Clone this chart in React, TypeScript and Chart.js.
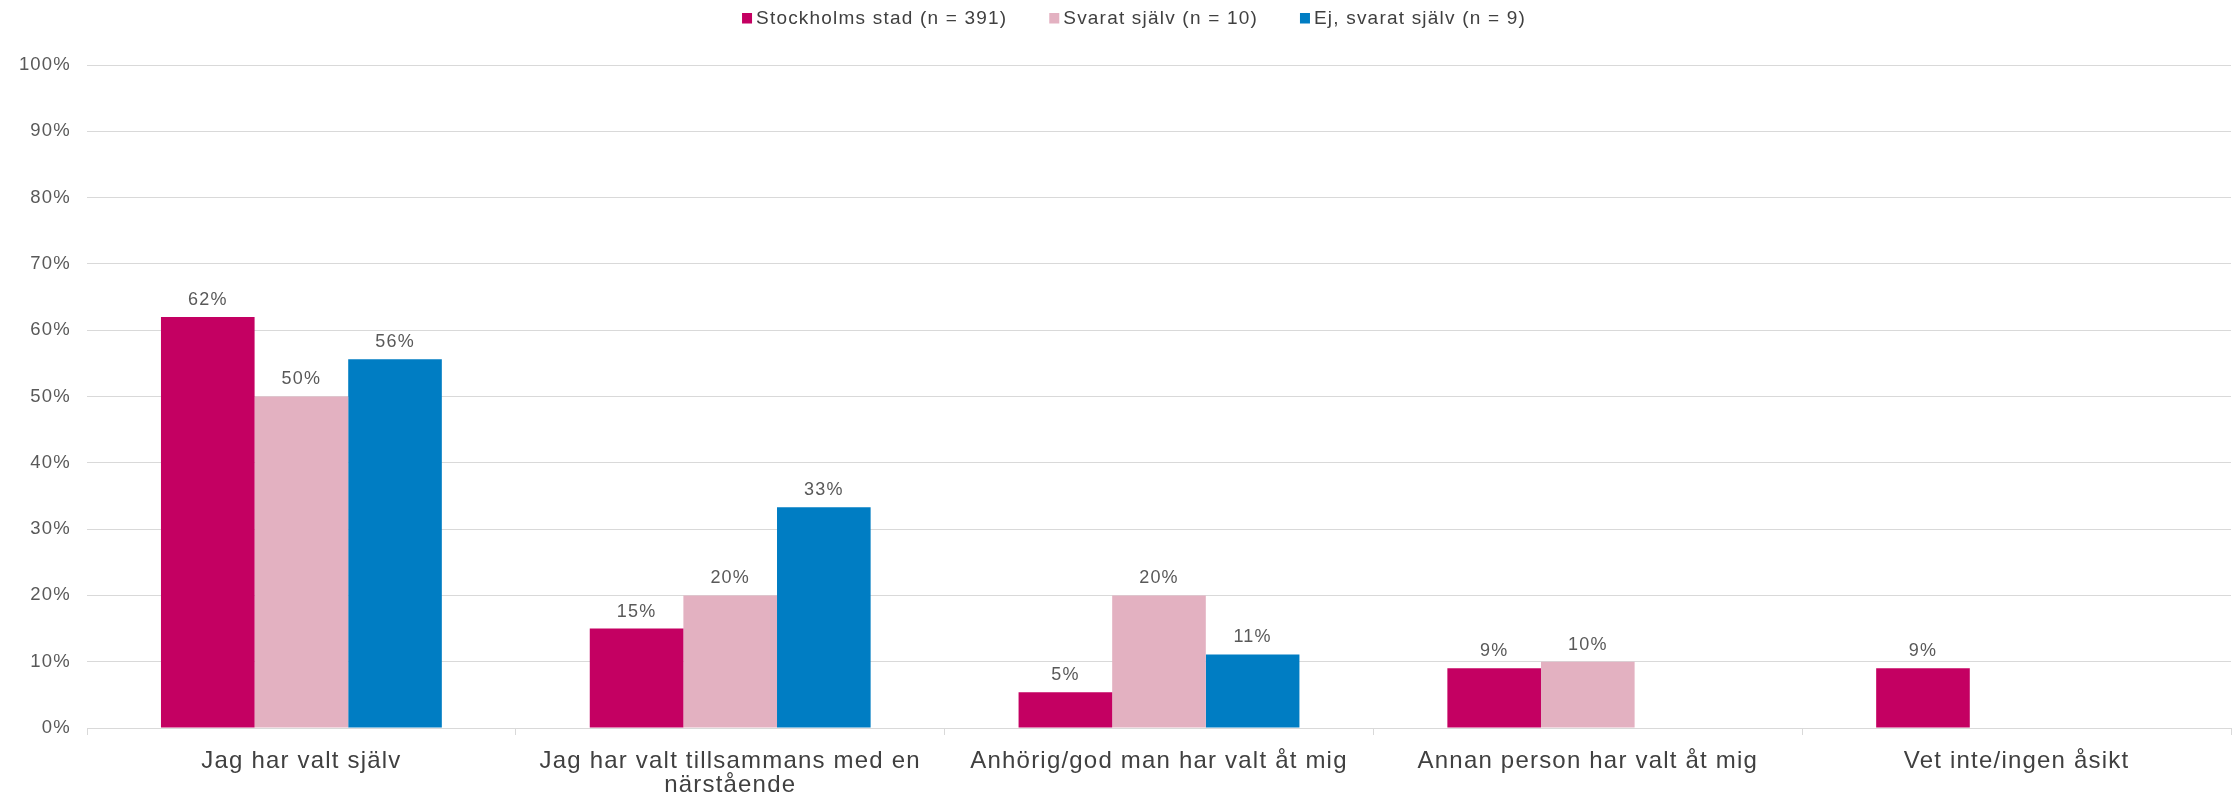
import React, { useEffect, useRef } from "react";
import { Chart, registerables } from "chart.js";

Chart.register(...registerables);

const categories: (string | string[])[] = [
  "Jag har valt själv",
  ["Jag har valt tillsammans med en", "närstående"],
  "Anhörig/god man har valt åt mig",
  "Annan person har valt åt mig",
  "Vet inte/ingen åsikt",
];

const seriesNames = [
  "Stockholms stad (n = 391)",
  "Svarat själv (n = 10)",
  "Ej, svarat själv (n = 9)",
];

const stockholmValues: (number | null)[] = [62, 15, 5.4, 9, 9];
const svaratSjalvValues: (number | null)[] = [50, 20, 20, 10, null];
const ejSvaratValues: (number | null)[] = [55.6, 33.3, 11.1, null, null];

const seriesColors = ["#C40062", "#E3B1C1", "#007DC3"];

const yTicks = [0, 10, 20, 30, 40, 50, 60, 70, 80, 90, 100];

const FONT = "'Liberation Sans', Arial, sans-serif";

const letterSpacingPlugin = {
  id: "letterSpacing",
  beforeLayout(chart: any) {
    (chart.ctx as any).letterSpacing = "1.2px";
  },
  beforeDraw(chart: any) {
    (chart.ctx as any).letterSpacing = "1.2px";
  },
};

const legendPlugin = {
  id: "topLegend",
  afterDraw(chart: any) {
    const ctx = chart.ctx;
    ctx.save();
    (ctx as any).letterSpacing = "1.2px";
    ctx.font = `19px ${FONT}`;
    ctx.textBaseline = "middle";
    ctx.textAlign = "left";
    const box = 10;
    const gapText = 4;
    const gapItem = 42;
    const items = chart.data.datasets.map((ds: any) => ({
      text: ds.label as string,
      color: ds.backgroundColor as string,
    }));
    const widths = items.map((it: any) => ctx.measureText(it.text).width);
    const total =
      widths.reduce((a: number, w: number) => a + box + gapText + w, 0) +
      gapItem * (items.length - 1);
    const center = (chart.chartArea.left + chart.chartArea.right) / 2 - 25;
    let x = center - total / 2;
    const y = 18.5;
    items.forEach((it: any, i: number) => {
      ctx.fillStyle = it.color;
      ctx.fillRect(x, y - 5.5, box, 10.5);
      ctx.fillStyle = "#404040";
      ctx.fillText(it.text, x + box + gapText, y);
      x += box + gapText + widths[i] + gapItem;
    });
    ctx.restore();
  },
};

const dataLabelPlugin = {
  id: "dataLabels",
  afterDatasetsDraw(chart: any) {
    const ctx = chart.ctx;
    ctx.save();
    (ctx as any).letterSpacing = "1.2px";
    ctx.font = `18px ${FONT}`;
    ctx.fillStyle = "#595959";
    ctx.textAlign = "center";
    ctx.textBaseline = "middle";
    chart.data.datasets.forEach((ds: any, i: number) => {
      const meta = chart.getDatasetMeta(i);
      meta.data.forEach((bar: any, j: number) => {
        const v = ds.data[j];
        if (v === null || v === undefined) return;
        ctx.fillText(`${Math.round(v)}%`, bar.x, bar.y - 17);
      });
    });
    ctx.restore();
  },
};

export default function App() {
  const ref = useRef<HTMLCanvasElement>(null);

  useEffect(() => {
    if (!ref.current) return;
    const chart = new Chart(ref.current, {
      type: "bar",
      data: {
        labels: categories,
        datasets: [stockholmValues, svaratSjalvValues, ejSvaratValues].map(
          (vals, i) => ({
            label: seriesNames[i],
            data: vals,
            backgroundColor: seriesColors[i],
            borderWidth: 0,
            barPercentage: 1,
            categoryPercentage: 0.655,
          })
        ),
      },
      options: {
        responsive: false,
        animation: false,
        devicePixelRatio: 1,
        layout: { padding: { left: 0, right: 6, top: 65, bottom: 0 } },
        plugins: {
          tooltip: { enabled: false },
          legend: { display: false },
        },
        scales: {
          x: {
            grid: {
              display: true,
              drawOnChartArea: false,
              drawTicks: true,
              tickLength: 7,
              color: "#d9d9d9",
              offset: true,
            },
            border: { display: true, color: "#d9d9d9" },
            ticks: {
              color: "#404040",
              font: { family: FONT, size: 24, lineHeight: 1.0 },
              padding: 14,
              maxRotation: 0,
              autoSkip: false,
            },
            afterFit(scale: any) {
              scale.height = 68;
            },
          },
          y: {
            min: 0,
            max: 100,
            afterBuildTicks(scale: any) {
              scale.ticks = yTicks.map((v) => ({ value: v }));
            },
            grid: { color: "#d9d9d9", drawTicks: false },
            border: { display: false },
            ticks: {
              color: "#595959",
              font: { family: FONT, size: 18.5 },
              padding: 16,
              callback: (v: any) => `${v}%`,
            },
            afterFit(scale: any) {
              scale.width = 87;
            },
          },
        },
      },
      plugins: [letterSpacingPlugin, dataLabelPlugin, legendPlugin],
    });
    return () => chart.destroy();
  }, []);

  return (
    <div
      style={{
        position: "fixed",
        left: 0,
        top: 0,
        width: 2237,
        height: 796,
        background: "#ffffff",
      }}
    >
      <canvas ref={ref} width={2237} height={796} />
    </div>
  );
}
